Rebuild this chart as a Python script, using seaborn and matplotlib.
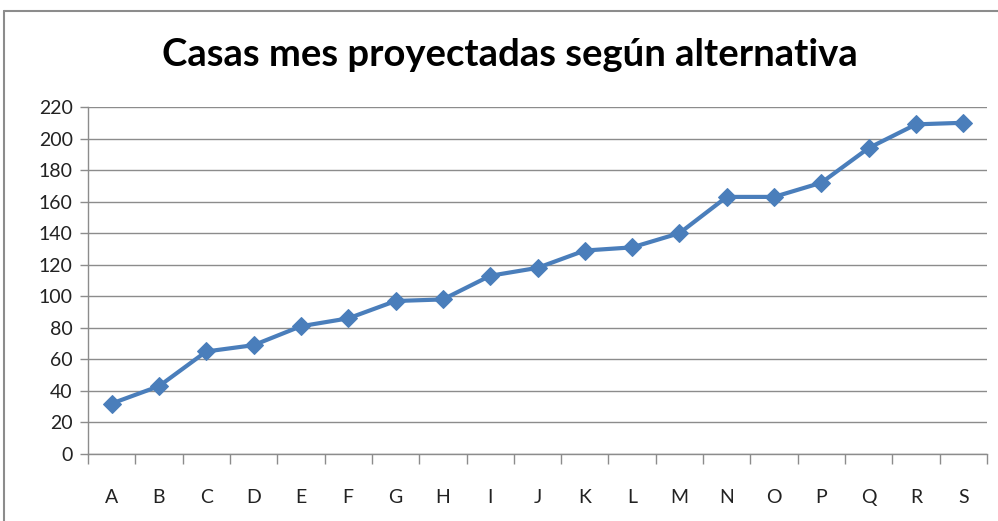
import matplotlib
matplotlib.use('Agg')
import matplotlib.pyplot as plt
from matplotlib.lines import Line2D
from matplotlib.ticker import FixedLocator
import pandas as pd
import seaborn as sns

categorias = ['A', 'B', 'C', 'D', 'E', 'F', 'G', 'H', 'I', 'J',
              'K', 'L', 'M', 'N', 'O', 'P', 'Q', 'R', 'S']
casas = [32, 43, 65, 69, 81, 86, 97, 98, 113, 118,
         129, 131, 140, 163, 163, 172, 194, 209, 210]
y_ticks = list(range(0, 221, 20))

sns.set_theme(style="white")
plt.rcParams['font.family'] = ['Lato', 'DejaVu Sans']

df = pd.DataFrame({'cat': categorias, 'casas': casas})

fig = plt.figure(figsize=(9.98, 5.21), dpi=100)
ax = fig.add_axes([88 / 998, 1 - 454 / 521, (987 - 88) / 998, 347 / 521])

sns.lineplot(data=df, x='cat', y='casas', ax=ax, sort=False,
             color='#4A7EBB', linewidth=3, marker='D', markersize=9.5,
             markeredgecolor='#4A7EBB', zorder=3)

ax.set_ylim(0, 220)
ax.set_xlim(-0.5, len(categorias) - 0.5)
ax.set_yticks(y_ticks)
ax.yaxis.grid(True, color='#8C8C8C', linewidth=1)
ax.set_axisbelow(True)
ax.set_xlabel('')
ax.set_ylabel('')

for s in ['top', 'right']:
    ax.spines[s].set_visible(False)
for s in ['left', 'bottom']:
    ax.spines[s].set_color('#8C8C8C')
    ax.spines[s].set_linewidth(1)

ax.xaxis.set_minor_locator(FixedLocator([i - 0.5 for i in range(len(categorias) + 1)]))
ax.tick_params(axis='x', which='major', length=0, pad=25, labelsize=14, labelcolor='#222222')
ax.tick_params(axis='x', which='minor', length=7, width=1, color='#8C8C8C', bottom=True)
ax.tick_params(axis='y', which='major', length=6, width=1, color='#8C8C8C', left=True,
               pad=5, labelsize=14, labelcolor='#222222')

fig.text(0.511, 0.894, 'Casas mes proyectadas según alternativa',
         ha='center', va='center', fontsize=27.5, fontweight='bold', color='black')

# marco exterior del gráfico
fig.add_artist(Line2D([4 / 998, 4 / 998], [0, 1 - 11 / 521], transform=fig.transFigure,
                      color='#8C8C8C', linewidth=1.5))
fig.add_artist(Line2D([4 / 998, 1], [1 - 11 / 521, 1 - 11 / 521], transform=fig.transFigure,
                      color='#8C8C8C', linewidth=1.5))

fig.savefig('out.png', dpi=100)
